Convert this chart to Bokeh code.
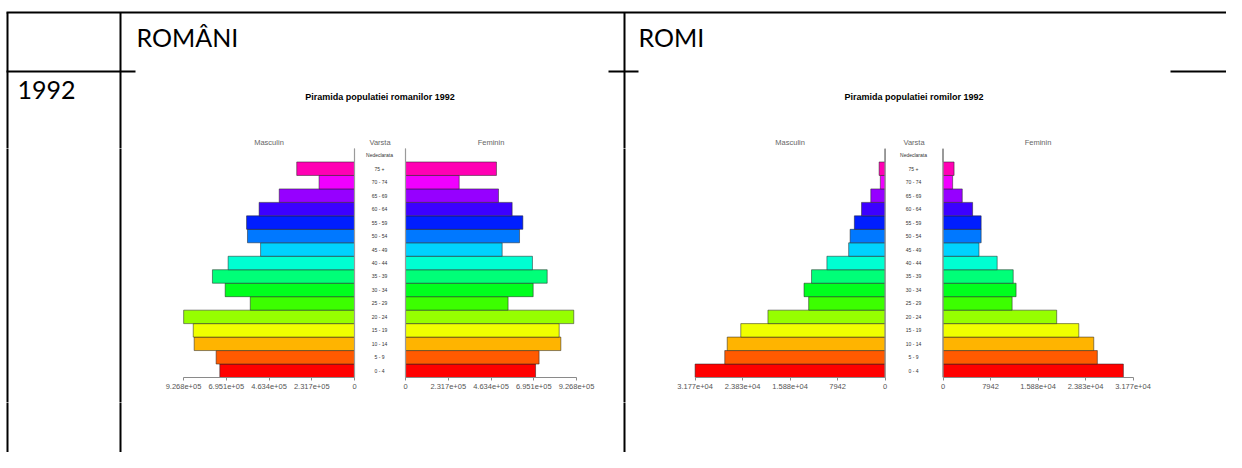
from bokeh.plotting import figure
from bokeh.layouts import column, row
from bokeh.models import Range1d, FactorRange, FixedTicker, LinearAxis, Span, ColumnDataSource
from bokeh.core.properties import value
from bokeh.embed import file_html
from bokeh.resources import INLINE

# ---------------- data ----------------
AGES = ["0 - 4", "5 - 9", "10 - 14", "15 - 19", "20 - 24", "25 - 29", "30 - 34",
        "35 - 39", "40 - 44", "45 - 49", "50 - 54", "55 - 59", "60 - 64",
        "65 - 69", "70 - 74", "75 +", "Nedeclarata"]

RO_MALE = [730000, 750000, 869000, 874000, 926000, 565000, 701000, 770000, 685000,
           509000, 580000, 585000, 517000, 408000, 192000, 313000, 0]
RO_FEMALE = [705000, 724000, 842000, 833000, 912000, 556000, 692000, 768000, 688000,
             524000, 618000, 636000, 578000, 504000, 291000, 493000, 0]
ROMA_MALE = [31770, 26810, 26400, 24130, 19590, 12780, 13560, 12300, 9730,
             6090, 5850, 5140, 3940, 2390, 800, 1000, 0]
ROMA_FEMALE = [30160, 25810, 25210, 22710, 19010, 11560, 12220, 11740, 9060,
               6020, 6380, 6380, 4950, 3220, 1610, 1850, 0]

RO_TICKS = [0, 231700, 463400, 695100, 926800]
RO_TICK_LABELS = ["0", "2.317e+05", "4.634e+05", "6.951e+05", "9.268e+05"]
ROMA_TICKS = [0, 7942, 15885, 23827, 31770]
ROMA_TICK_LABELS = ["0", "7942", "1.588e+04", "2.383e+04", "3.177e+04"]

TITLE_RO = "Piramida populatiei romanilor 1992"
TITLE_ROMA = "Piramida populatiei romilor 1992"
HEAD_MALE, HEAD_AGE, HEAD_FEMALE = "Masculin", "Varsta", "Feminin"
COL_RO, COL_ROMA, ROW_YEAR = "ROMÂNI", "ROMI", "1992"

# ---------------- style ----------------
COLORS = ["#FF0000", "#FF5A00", "#FFB400", "#F0FF00", "#96FF00", "#3CFF00", "#00FF1E",
          "#00FF78", "#00FFD2", "#00D2FF", "#0078FF", "#001EFF", "#3C00FF",
          "#9600FF", "#F000FF", "#FF00B4", "#FF005A"]
SANS = "Liberation Sans"
TABLE_FONT = "Lato"

W, H = 1226, 452
TOP_H, FRAME_H, AX_H = 148, 229, 25
MID_H = FRAME_H + AX_H
BOT_H = H - TOP_H - MID_H

WIDTHS = [130, 228, 42, 212, 26, 251, 48, 289]
RO_PX, ROMA_PX = 171.0, 190.0
VLINES = [7, 120, 624]


def base(width, height, x_range, y_range, bottom=0, align=True):
    p = figure(width=width, height=height, x_range=x_range, y_range=y_range,
               output_backend="svg", toolbar_location=None,
               x_axis_location=None, y_axis_location=None,
               min_border=0, min_border_bottom=bottom)
    if not align:
        p.frame_align = False
    p.grid.visible = False
    p.outline_line_color = None
    p.background_fill_color = "white"
    p.border_fill_color = "white"
    return p


def half(width, vals, ticks, labels, px_len, zero_px, left_side):
    k = ticks[-1] / px_len
    if left_side:
        xr = Range1d(zero_px * k, -(width - zero_px) * k)
    else:
        xr = Range1d(-zero_px * k, (width - zero_px) * k)
    p = base(width, MID_H, xr, FactorRange(*AGES), bottom=AX_H)
    src = ColumnDataSource(dict(y=AGES, v=vals, c=COLORS))
    p.hbar(y="y", left=0, right="v", height=1.0, source=src, fill_color="c",
           line_color="#222222", line_width=0.7, line_alpha=0.75)
    p.add_layout(Span(location=0, dimension="height", line_color="#9a9a9a", line_width=1.2))
    ax = LinearAxis(ticker=FixedTicker(ticks=ticks),
                    major_label_overrides={t: l for t, l in zip(ticks, labels)},
                    bounds=(0, ticks[-1]))
    ax.axis_line_color = "#8a8a8a"
    ax.major_tick_line_color = "#8a8a8a"
    ax.major_tick_out = 3
    ax.major_tick_in = 0
    ax.minor_tick_line_color = None
    ax.major_label_standoff = 3
    ax.major_label_text_font = SANS
    ax.major_label_text_font_size = "7.5px"
    ax.major_label_text_color = "#555555"
    p.add_layout(ax, "below")
    return p


def labels_panel(width):
    p = base(width, MID_H, Range1d(0, 1), FactorRange(*AGES), bottom=AX_H)
    p.text(x=[0.5] * len(AGES), y=AGES, text=AGES, text_align="center",
           text_baseline="middle", text_font=value(SANS), text_font_size="5px",
           text_color="#333333")
    return p


def lines_panel(x0, width, height, xs):
    p = base(width, height, Range1d(x0, x0 + width), Range1d(height, 0), align=False)
    p.segment(x0=xs, y0=[-20] * len(xs), x1=xs, y1=[height + 20] * len(xs),
              line_color="black", line_width=2)
    return p


# ---------------- geometry ----------------
xs_start = [0]
for w in WIDTHS[:-1]:
    xs_start.append(xs_start[-1] + w)

ro_m_zero = xs_start[1] + 224
ro_f_zero = xs_start[3] + 5
roma_m_zero = xs_start[5] + 246.6
roma_f_zero = xs_start[7] + 5.5

# ---------------- top panel ----------------
top = base(W, TOP_H, Range1d(0, W), Range1d(TOP_H, 0))
top.segment(x0=[6], y0=[12], x1=[W + 10], y1=[12], line_color="black", line_width=2)
top.segment(x0=VLINES, y0=[12] * 3, x1=VLINES, y1=[TOP_H + 20] * 3,
            line_color="black", line_width=2)
top.segment(x0=[6, 608, 1170], y0=[71] * 3, x1=[135, 638, W + 10], y1=[71] * 3,
            line_color="black", line_width=2)
top.text(x=[136, 638], y=[36, 36], text=[COL_RO, COL_ROMA], text_font=value(TABLE_FONT),
         text_font_size="25px", text_baseline="middle", text_color="black")
top.text(x=[17], y=[89], text=[ROW_YEAR], text_font=value(TABLE_FONT),
         text_font_size="25px", text_baseline="middle", text_color="black")

ro_mid = (ro_m_zero + ro_f_zero) / 2
roma_mid = (roma_m_zero + roma_f_zero) / 2
top.text(x=[ro_mid, roma_mid], y=[96, 96], text=[TITLE_RO, TITLE_ROMA],
         text_font=value(SANS), text_font_style="bold", text_font_size="9px",
         text_align="center", text_baseline="middle", text_color="black")
hx = [ro_m_zero - RO_PX / 2, ro_mid, ro_f_zero + RO_PX / 2,
      roma_m_zero - ROMA_PX / 2, roma_mid, roma_f_zero + ROMA_PX / 2]
top.text(x=hx, y=[142] * 6, text=[HEAD_MALE, HEAD_AGE, HEAD_FEMALE] * 2,
         text_font=value(SANS), text_font_size="7.5px", text_align="center",
         text_baseline="middle", text_color="#666666")

# ---------------- middle row ----------------
f0 = lines_panel(xs_start[0], WIDTHS[0], MID_H, VLINES[:2])
f1 = half(WIDTHS[1], RO_MALE, RO_TICKS, RO_TICK_LABELS, RO_PX, 224, True)
f2 = labels_panel(WIDTHS[2])
f3 = half(WIDTHS[3], RO_FEMALE, RO_TICKS, RO_TICK_LABELS, RO_PX, 5, False)
f4 = lines_panel(xs_start[4], WIDTHS[4], MID_H, VLINES[2:])
f5 = half(WIDTHS[5], ROMA_MALE, ROMA_TICKS, ROMA_TICK_LABELS, ROMA_PX, 246.6, True)
f6 = labels_panel(WIDTHS[6])
f7 = half(WIDTHS[7], ROMA_FEMALE, ROMA_TICKS, ROMA_TICK_LABELS, ROMA_PX, 5.5, False)
mid = row(f0, f1, f2, f3, f4, f5, f6, f7, spacing=0)

# ---------------- bottom panel ----------------
bot = lines_panel(0, W, BOT_H, VLINES)

layout = column(top, mid, bot, spacing=0)
open("out.html", "w").write(file_html(layout, INLINE))
